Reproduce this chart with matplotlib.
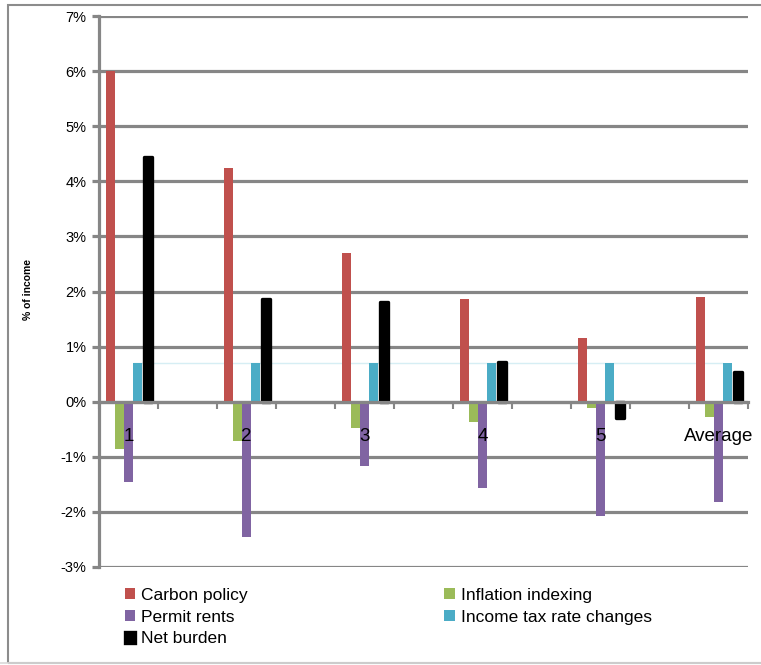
import matplotlib
matplotlib.use("Agg")
import matplotlib.pyplot as plt
from matplotlib.patches import Rectangle
import numpy as np

categories = ['1', '2', '3', '4', '5', 'Average']
carbon_policy = [6.00, 4.25, 2.69, 1.87, 1.15, 1.90]
inflation_indexing = [-0.85, -0.72, -0.48, -0.37, -0.12, -0.28]
permit_rents = [-1.45, -2.45, -1.16, -1.56, -2.07, -1.82]
income_tax = [0.70, 0.70, 0.70, 0.70, 0.70, 0.70]
net_burden = [4.45, 1.86, 1.81, 0.72, -0.29, 0.54]
yticks = [-3, -2, -1, 0, 1, 2, 3, 4, 5, 6, 7]

plt.rcParams['font.family'] = ['Liberation Sans', 'DejaVu Sans']

fig = plt.figure(figsize=(7.61, 6.65), dpi=100)
ax = fig.add_axes([99/761, 1-567/665, (748-99)/761, (567-16)/665])

grid_c = '#868686'
n_slots = 2*len(categories) - 1
x = np.arange(len(categories)) * 2
w = 0.15

series = [
    ('Carbon policy', carbon_policy, '#C0504D'),
    ('Inflation indexing', inflation_indexing, '#9BBB59'),
    ('Permit rents', permit_rents, '#8064A2'),
    ('Income tax rate changes', income_tax, '#4BACC6'),
    ('Net burden', net_burden, '#000000'),
]
handles = {}
for i, (name, vals, col) in enumerate(series):
    off = (i - 2) * w
    if name == 'Net burden':
        b = ax.bar(x + off + 0.03, vals, w*0.95, color=col, edgecolor='black',
                   linewidth=2.4, zorder=3, label=name)
        for p in b.patches:
            p.set_joinstyle('round')
    else:
        b = ax.bar(x + off, vals, w, color=col, linewidth=0, zorder=3, label=name)
    handles[name] = b

# faint line at income tax level
ax.hlines(income_tax[0], x[0] + 0.5*w, x[-1] + 0.5*w, color='#d6eef4', lw=1, zorder=2)

ax.set_xlim(-0.5, n_slots - 0.5)
ax.set_ylim(-3, 7)
ax.set_yticks(yticks)
ax.set_yticklabels([f'{v}%' for v in yticks], fontsize=10.5)
ax.yaxis.grid(True, color=grid_c, lw=2.3, zorder=1)
ax.set_axisbelow(True)

for s in ['top', 'right']:
    ax.spines[s].set_visible(False)
ax.spines['left'].set_color(grid_c)
ax.spines['left'].set_linewidth(2.3)
ax.spines['bottom'].set_position(('data', 0))
ax.spines['bottom'].set_color(grid_c)
ax.spines['bottom'].set_linewidth(2.3)
ax.spines['bottom'].set_zorder(4)

ax.set_xticks(np.arange(-0.5, n_slots, 1.0))
ax.set_xticklabels([])
ax.tick_params(axis='x', direction='out', length=5, width=1.5, color=grid_c)
ax.tick_params(axis='y', direction='out', length=5, width=2.3, color=grid_c, pad=4)

for xi, lab in zip(x, categories):
    ax.text(xi, -0.64, lab, ha='center', va='center', fontsize=13.5, zorder=5)

fig.text(28/761, 1-290/665, '% of income', rotation=90, ha='center', va='center',
         fontsize=7.5, fontweight='bold')

order = ['Carbon policy', 'Permit rents', 'Net burden', 'Inflation indexing', 'Income tax rate changes']
leg = fig.legend([handles[k] for k in order], order, ncol=2, loc='upper left',
                 bbox_to_anchor=(118/761, 1-581/665), frameon=False, fontsize=12.5,
                 handlelength=0.6, handleheight=0.6, handletextpad=0.35,
                 labelspacing=0.38, columnspacing=11.3, borderaxespad=0)

# outer chart border
fig.patches.append(Rectangle((8/761, 2/665), 1.2, 1-7/665, transform=fig.transFigure,
                             fill=False, edgecolor='#8c8c8c', lw=1.5, clip_on=False))
fig.patches.append(Rectangle((0, 2/665), 1, 0, transform=fig.transFigure,
                             fill=False, edgecolor='#d9d9d9', lw=1.2))

fig.savefig('out.png', dpi=100)
